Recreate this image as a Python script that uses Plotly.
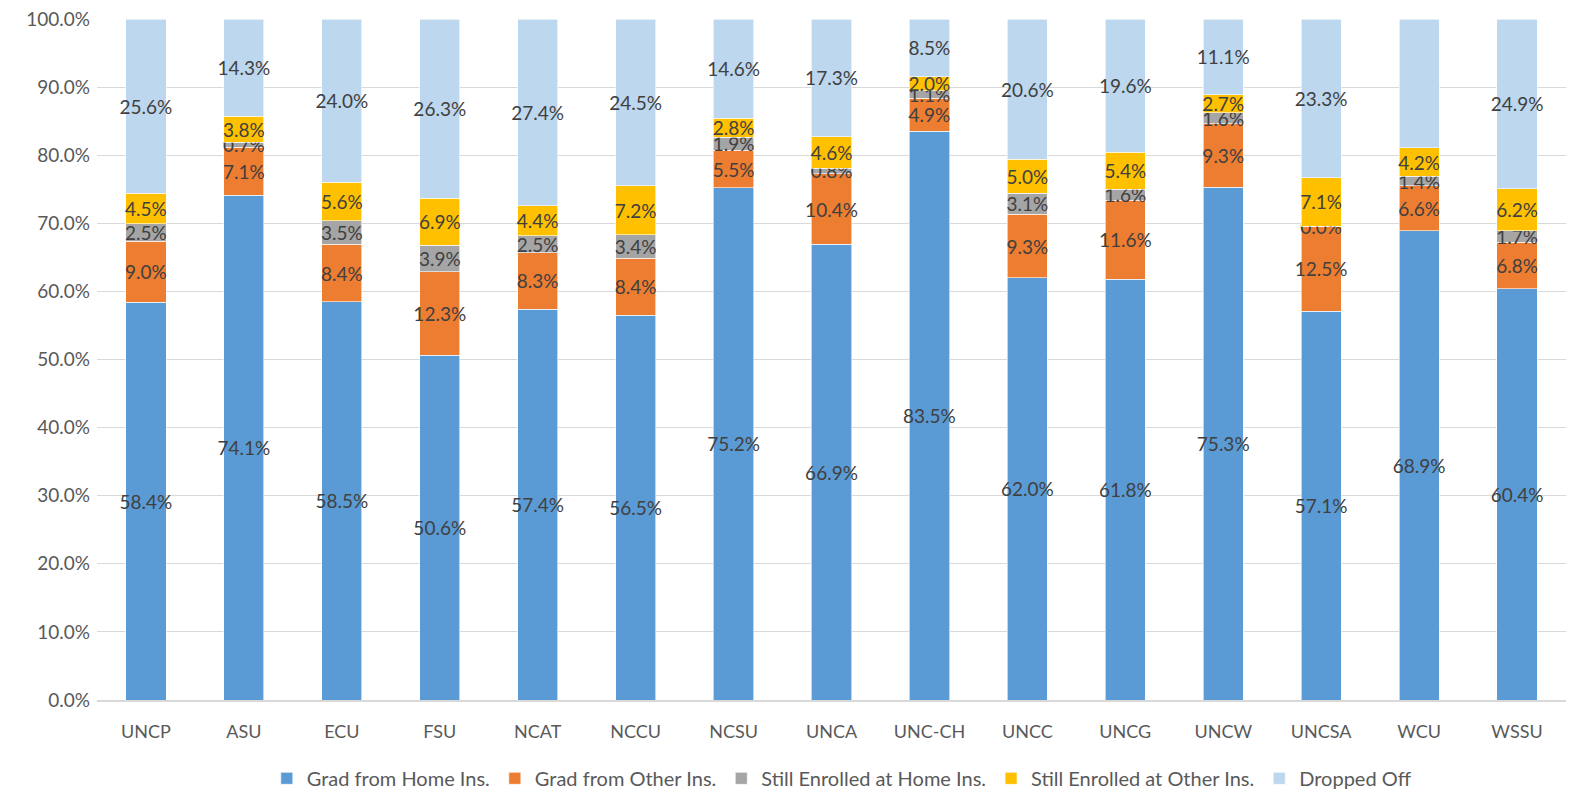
import plotly.graph_objects as go

categories = ["UNCP", "ASU", "ECU", "FSU", "NCAT", "NCCU", "NCSU", "UNCA", "UNC-CH",
              "UNCC", "UNCG", "UNCW", "UNCSA", "WCU", "WSSU"]
grad_home = [58.4, 74.1, 58.5, 50.6, 57.4, 56.5, 75.2, 66.9, 83.5, 62.0, 61.8, 75.3, 57.1, 68.9, 60.4]
grad_other = [9.0, 7.1, 8.4, 12.3, 8.3, 8.4, 5.5, 10.4, 4.9, 9.3, 11.6, 9.3, 12.5, 6.6, 6.8]
still_home = [2.5, 0.7, 3.5, 3.9, 2.5, 3.4, 1.9, 0.8, 1.1, 3.1, 1.6, 1.6, 0.0, 1.4, 1.7]
still_other = [4.5, 3.8, 5.6, 6.9, 4.4, 7.2, 2.8, 4.6, 2.0, 5.0, 5.4, 2.7, 7.1, 4.2, 6.2]
dropped = [25.6, 14.3, 24.0, 26.3, 27.4, 24.5, 14.6, 17.3, 8.5, 20.6, 19.6, 11.1, 23.3, 18.9, 24.9]
y_ticks = [0, 0.1, 0.2, 0.3, 0.4, 0.5, 0.6, 0.7, 0.8, 0.9, 1.0]

series = [
    ("Grad from Home Ins.", grad_home, "#5B9BD5"),
    ("Grad from Other Ins.", grad_other, "#ED7D31"),
    ("Still Enrolled at Home Ins.", still_home, "#A5A5A5"),
    ("Still Enrolled at Other Ins.", still_other, "#FFC000"),
    ("Dropped Off", dropped, "#BDD7EE"),
]

FONT = "Lato"
label_font = dict(family=FONT, size=19, color="#404040")
fig = go.Figure()
for name, vals, color in series:
    v = [x / 100 for x in vals]
    fig.add_trace(go.Bar(
        x=categories, y=v, name=name,
        marker=dict(color=color, line=dict(color="white", width=0.6)),
        text=[f"{x:.1f}%" for x in vals],
        # zero-height segments keep their "0.0%" label
        textposition=["outside" if x == 0 else "inside" for x in vals],
        insidetextanchor="middle", textangle=0,
        insidetextfont=label_font, outsidetextfont=label_font,
        cliponaxis=False,
        hovertemplate="%{x}: %{text}<extra>" + name + "</extra>",
    ))

# page body has an 8px default margin, so the figure is sized/offset to compensate
fig.update_layout(
    barmode="stack",
    bargap=0.59,
    width=1571, height=791,
    margin=dict(l=89, r=13, t=11, b=99, autoexpand=False),
    paper_bgcolor="white", plot_bgcolor="white",
    font=dict(family=FONT, size=18, color="#595959"),
    uniformtext=dict(minsize=19, mode="show"),
    showlegend=True,
    legend=dict(orientation="h", x=0.507, xanchor="center", y=-0.115, yanchor="middle",
                font=dict(family=FONT, size=20, color="#595959"),
                traceorder="normal"),
    xaxis=dict(showgrid=False, showline=True, linecolor="#D9D9D9", linewidth=1.5,
               ticks="", automargin=False, ticklabelstandoff=15,
               tickfont=dict(family=FONT, size=18, color="#595959")),
    yaxis=dict(range=[0, 1], tickvals=y_ticks, tickformat=".1%",
               showgrid=True, gridcolor="#D9D9D9", gridwidth=1, automargin=False,
               zeroline=False, showline=False, ticks="", ticklabelstandoff=6,
               ticklabeloverflow="allow",
               tickfont=dict(family=FONT, size=19, color="#595959")),
)

fig.write_html("out.html")
